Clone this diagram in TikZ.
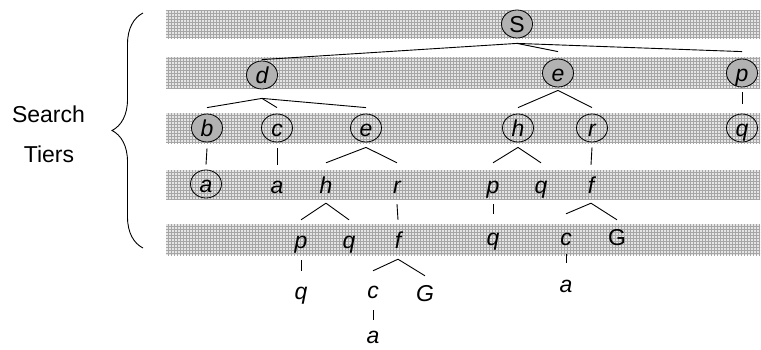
\documentclass[tikz,border=0pt]{standalone}
\usepackage{fontspec}
\setmainfont{Liberation Sans}
\usetikzlibrary{shapes.geometric,patterns,decorations.pathreplacing}

\begin{document}
\begin{tikzpicture}[x=1pt,y=-1pt,%%
  bandStyle/.style={pattern=grid,pattern color=gray!70},%%
  tierNode/.style={ellipse,minimum width=31pt,minimum height=28pt,inner sep=0pt,%%
    text height=17pt,text depth=1pt,font=\fontsize{23}{26}\selectfont\itshape},%%
  openNode/.style={tierNode,draw,line width=0.8pt},%%
  doneNode/.style={openNode,fill=gray!60},%%
  uprightText/.style={font=\fontsize{23}{26}\selectfont},%%
  lineStyle/.style={-,line width=0.9pt},%%
  braceStyle/.style={decorate,decoration={brace,amplitude=31pt},line width=0.9pt}
]
\useasboundingbox (0,0) rectangle (761,349);
%%
%% The five shaded tiers.
\foreach \yTop/\yBot in {10/38,57/88,113/143,170/199,224/255} {
  \fill[gray!20] (166,\yTop) rectangle (760,\yBot);
  \fill[bandStyle] (166,\yTop) rectangle (760,\yBot);
}
%%
%% Brace and its label.
\coordinate (braceBot) at (143,248);
\coordinate (braceTop) at (143,13);
\draw[braceStyle] (braceBot) -- (braceTop);
\node (search) at (48.5,122) [anchor=base,uprightText] {Search};
\node (tiers) at (49,162) [anchor=base,uprightText] {Tiers};
%%
%% Tier 1 and 2.
\node (S) at (517,24) [doneNode,uprightText] {S};
\node (d) at (262,75) [doneNode] {d};
\node (e) at (558,73) [doneNode] {e};
\node (p) at (742,73) [doneNode] {p};
%% Tier 3.
\node (db) at (207,128) [doneNode] {b};
\node (dc) at (277,128) [openNode] {c};
\node (de) at (366,128) [openNode] {e};
\node (eh) at (518,128) [openNode] {h};
\node (er) at (592,128) [openNode] {r};
\node (pq) at (742,128) [openNode] {q};
%% Tier 4.
\node (dba) at (206,184) [openNode] {a};
\node (dca) at (277,185) [tierNode] {a};
\node (deh) at (326,185) [tierNode] {h};
\node (der) at (397,185) [tierNode] {r};
\node (ehp) at (493,185) [tierNode] {p};
\node (ehq) at (541,185) [tierNode] {q};
\node (erf) at (591,185) [tierNode] {f};
%% Tier 5.
\node (dehp) at (301,240) [tierNode] {p};
\node (dehq) at (349,240) [tierNode] {q};
\node (derf) at (398,240) [tierNode] {f};
\node (ehpq) at (493,237) [tierNode] {q};
\node (erfc) at (566,237) [tierNode] {c};
\node (erfG) at (617,237) [tierNode,uprightText] {G};
%% Below the tiers.
\node (dehpq) at (301,291) [tierNode] {q};
\node (derfc) at (373,290) [tierNode] {c};
\node (derfG) at (425,293) [tierNode] {G};
\node (erfca) at (566,284) [tierNode] {a};
\node (derfca) at (373,335) [tierNode,rectangle,minimum height=0pt] {a};
%%
%% Branches.
\draw[lineStyle] ([yshift=-5pt]S.south) -- ([yshift=1pt]d.north);
\foreach \child in {e,p}
  \draw[lineStyle] ([yshift=-5pt]S.south) -- ([yshift=7pt]\child.north);
\foreach \child in {db,dc,de}
  \draw[lineStyle] ([yshift=-9pt]d.south) -- ([yshift=6pt]\child.north);
\foreach \child in {eh,er}
  \draw[lineStyle] ([yshift=-3pt]e.south) -- ([yshift=6pt]\child.north);
\draw[lineStyle] ([yshift=-5pt]p.south) -- ([yshift=10pt]pq.north);
\draw[lineStyle] ([yshift=-6pt]db.south) -- ([yshift=5pt]dba.north);
\draw[lineStyle] ([yshift=-6pt]dc.south) -- ([yshift=6pt]dca.north);
\foreach \child in {deh,der}
  \draw[lineStyle] ([yshift=-5pt]de.south) -- ([yshift=8pt]\child.north);
\foreach \child in {ehp,ehq}
  \draw[lineStyle] ([yshift=-5pt]eh.south) -- ([yshift=8pt]\child.north);
\draw[lineStyle] ([yshift=-5pt]er.south) -- ([yshift=6pt]erf.north);
\foreach \child in {dehp,dehq}
  \draw[lineStyle] ([yshift=-4pt]deh.south) -- ([yshift=6pt]\child.north);
\draw[lineStyle] ([yshift=-5pt]der.south) -- ([yshift=6pt]derf.north);
\draw[lineStyle] ([yshift=-5pt]ehp.south) -- ([yshift=9pt]ehpq.north);
\draw[lineStyle] ([yshift=-4pt]erf.south) -- ([yshift=9pt]erfc.north);
\draw[lineStyle] ([yshift=-4pt]erf.south) -- ([yshift=3pt]erfG.north);
\draw[lineStyle] ([yshift=-6pt]dehp.south) -- ([yshift=6pt]dehpq.north);
\draw[lineStyle] ([yshift=-5pt]derf.south) -- ([yshift=5pt]derfc.north);
\draw[lineStyle] ([yshift=-5pt]derf.south) -- ([yshift=3pt]derfG.north);
\draw[lineStyle] ([yshift=-3pt]erfc.south) -- ([yshift=7pt]erfca.north);
\draw[lineStyle] ([yshift=-6pt]derfc.south) -- ([yshift=6pt]derfca.north);
\end{tikzpicture}
\end{document}
